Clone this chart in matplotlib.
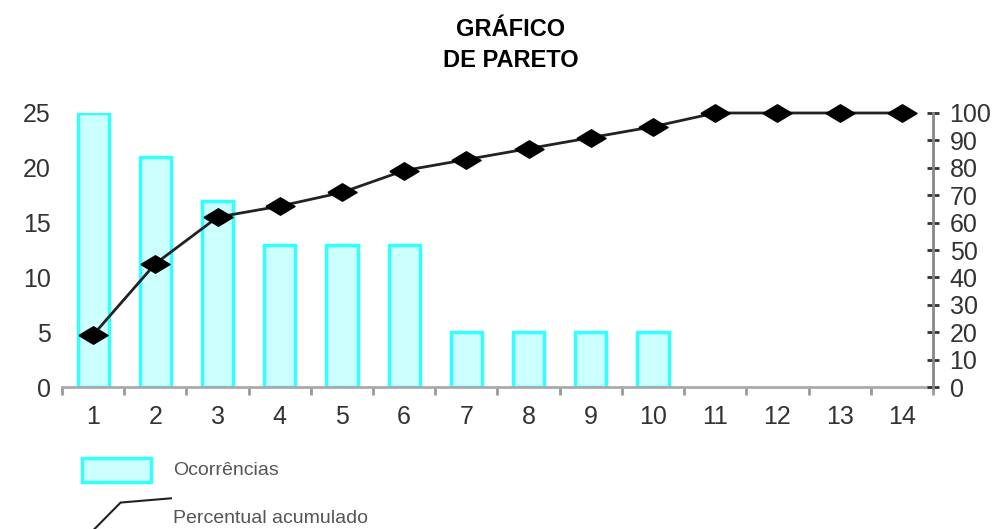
import matplotlib
matplotlib.use("Agg")
import matplotlib.pyplot as plt
from matplotlib.patches import Rectangle
from matplotlib.lines import Line2D

plt.rcParams['font.family'] = ['Liberation Sans', 'DejaVu Sans']

# data
categorias = [1, 2, 3, 4, 5, 6, 7, 8, 9, 10, 11, 12, 13, 14]
ocorrencias = [25, 21, 17, 13, 13, 13, 5, 5, 5, 5, 0, 0, 0, 0]
percentual = [19, 45, 62, 66, 71, 79, 83, 87, 91, 95, 100, 100, 100, 100]

fig = plt.figure(figsize=(10.05, 5.29), dpi=100)
ax = fig.add_axes([0.0617, 0.2684, 0.8666, 0.518])
ax2 = ax.twinx()

#------------- bars
ax.bar(categorias[:10], ocorrencias[:10], width=0.5, color='#ccffff',
       edgecolor='#33ffff', linewidth=2.5, zorder=2)
ax.set_xlim(0.5, 14.5)
ax.set_ylim(0, 25)
ax.set_yticks([0, 5, 10, 15, 20, 25])
ax.set_xticks(categorias)
ax.set_xticks([c + 0.5 for c in range(0, 15)], minor=True)
ax.tick_params(axis='x', which='major', length=0, pad=13, labelsize=18, labelcolor='#333333')
ax.tick_params(axis='x', which='minor', length=6, width=2, color='#999999', direction='out')
ax.tick_params(axis='y', length=0, pad=8, labelsize=18, labelcolor='#333333')
for s in ['top', 'right', 'left']:
    ax.spines[s].set_visible(False)
ax.spines['bottom'].set_color('#aaaaaa')
ax.spines['bottom'].set_linewidth(2)

#------------- cumulative line
diamante = [(-1, 0), (0, 0.6), (1, 0), (0, -0.6), (-1, 0)]
ax2.plot(categorias, percentual, color='#222222', linewidth=2,
         marker=diamante, markersize=21, markerfacecolor='black',
         markeredgecolor='black', clip_on=False, zorder=3)
ax2.set_ylim(0, 100)
ax2.set_yticks(range(0, 101, 10))
ax2.tick_params(axis='y', direction='inout', length=8, width=2, color='#333333',
                pad=8, labelsize=18, labelcolor='#333333')
for s in ['top', 'left', 'bottom']:
    ax2.spines[s].set_visible(False)
ax2.spines['right'].set_color('#888888')
ax2.spines['right'].set_linewidth(2)

#------------- title
fig.text(0.508, 0.915, "GRÁFICO\nDE PARETO", ha='center', va='center',
         fontsize=17, fontweight='bold', linespacing=1.4)

#------------- legend drawn by hand
fig.add_artist(Rectangle((0.082, 0.089), 0.068, 0.045, transform=fig.transFigure,
                         facecolor='#ccffff', edgecolor='#33ffff', linewidth=2.5))
fig.text(0.172, 0.111, "Ocorrências", fontsize=14, color='#555555', va='center')
fig.add_artist(Line2D([0.094, 0.12, 0.17], [0.0, 0.05, 0.058], transform=fig.transFigure,
                      color='#222222', linewidth=1.5))
fig.text(0.172, 0.019, "Percentual acumulado", fontsize=14, color='#555555', va='center')

plt.savefig("out.png", dpi=100)
